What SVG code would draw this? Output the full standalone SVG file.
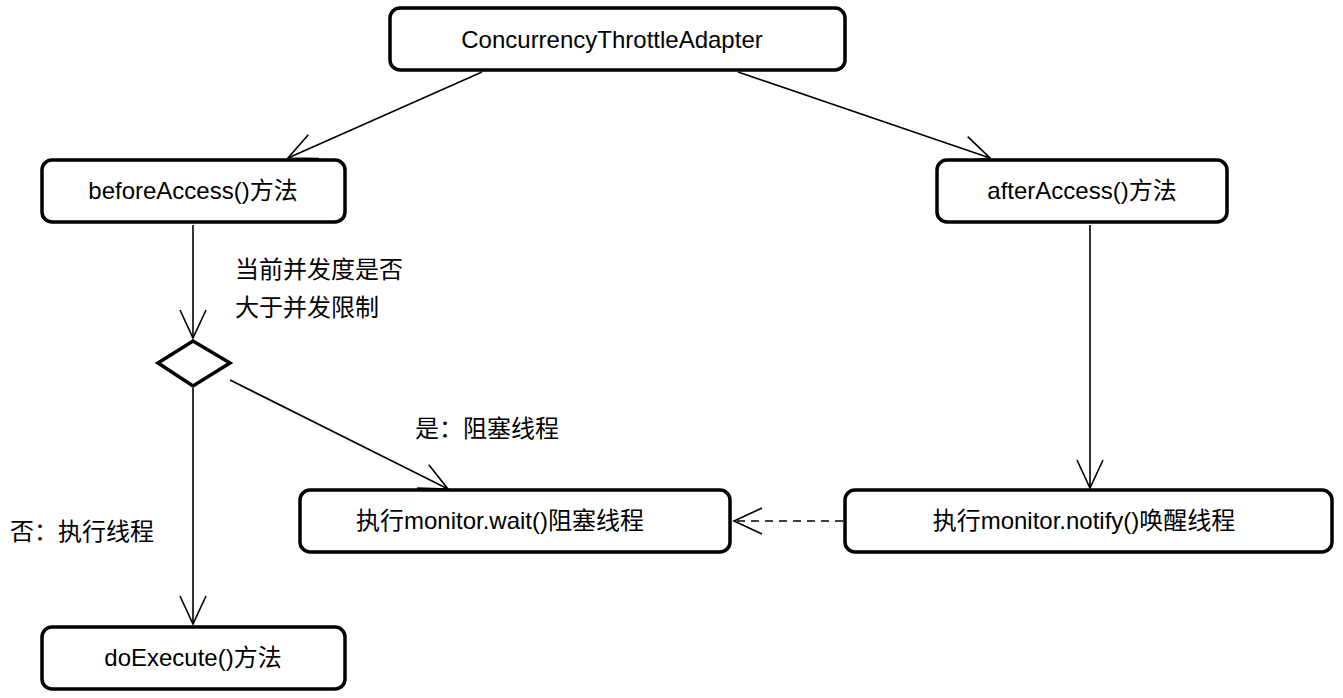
<svg xmlns="http://www.w3.org/2000/svg" width="1343" height="698" viewBox="0 0 1343 698">
<style>
.n{fill:#fff;stroke:#000;stroke-width:3.5}
.t{font-family:"Liberation Sans","Noto Sans CJK SC",sans-serif;font-size:24px;fill:#000}
.c{text-anchor:middle}
.e{stroke:#000;stroke-width:1.6;fill:none}
</style>
<defs>
<marker id="a" markerUnits="userSpaceOnUse" markerWidth="40" markerHeight="40" refX="30" refY="15" orient="auto">
<path d="M2,2 L30,15 L2,28" fill="none" stroke="#000" stroke-width="1.6"/>
</marker>
</defs>
<rect width="1343" height="698" fill="#fff"/>
<g id="connectors">
<line class="e" x1="482" y1="72" x2="288" y2="158" marker-end="url(#a)"/>
<line class="e" x1="738" y1="72" x2="990" y2="158" marker-end="url(#a)"/>
<line class="e" x1="193" y1="225" x2="193" y2="338" marker-end="url(#a)"/>
<line class="e" x1="193" y1="388" x2="193" y2="624" marker-end="url(#a)"/>
<line class="e" x1="230" y1="380" x2="448" y2="489" marker-end="url(#a)"/>
<line class="e" x1="1090" y1="225" x2="1090" y2="488" marker-end="url(#a)"/>
<line class="e" x1="843" y1="521" x2="734" y2="521" stroke-dasharray="8,6" marker-end="url(#a)"/>
</g>
<g id="top"><rect class="n" x="390" y="8" width="455" height="62" rx="10"/><text class="t c" x="612" y="48">ConcurrencyThrottleAdapter</text></g>
<g id="before"><rect class="n" x="42" y="160" width="303" height="62" rx="10"/><text class="t c" x="193" y="199">beforeAccess()方法</text></g>
<g id="after"><rect class="n" x="937" y="160" width="290" height="62" rx="10"/><text class="t c" x="1082" y="199">afterAccess()方法</text></g>
<g id="decision"><polygon class="n" points="158,363 193,341 230,363 193,386"/></g>
<g id="wait"><rect class="n" x="300" y="490" width="430" height="62" rx="10"/><text class="t c" x="500" y="529">执行monitor.wait()阻塞线程</text></g>
<g id="notify"><rect class="n" x="845" y="490" width="487" height="62" rx="10"/><text class="t c" x="1084" y="529">执行monitor.notify()唤醒线程</text></g>
<g id="exec"><rect class="n" x="42" y="627" width="303" height="62" rx="10"/><text class="t c" x="193" y="666">doExecute()方法</text></g>
<g id="labels">
<text class="t" x="235" y="278">当前并发度是否</text>
<text class="t" x="235" y="316">大于并发限制</text>
<text class="t" x="415" y="437">是：阻塞线程</text>
<text class="t" x="10" y="540">否：执行线程</text>
</g>
</svg>
